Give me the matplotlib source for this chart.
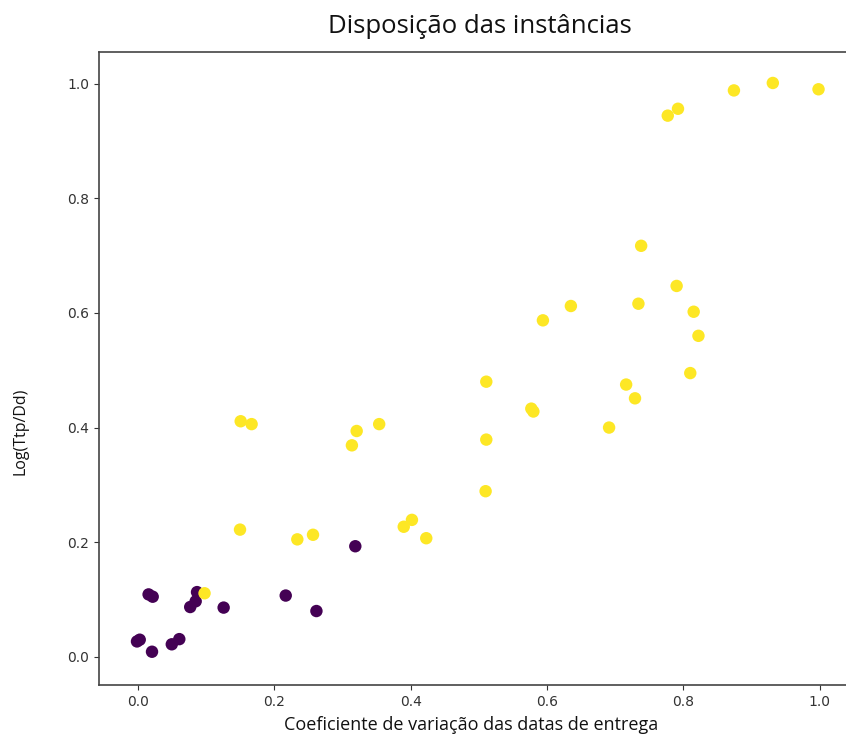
import numpy as np
import matplotlib
matplotlib.use("Agg")
import matplotlib.pyplot as plt

# coeficiente de variação (x), Log(Ttp/Dd) (y), grupo (0 = roxo, 1 = amarelo)
cv_yellow = [0.777, 0.792, 0.874, 0.931, 0.998,
             0.738, 0.790, 0.734, 0.815, 0.635, 0.594, 0.822, 0.810,
             0.511, 0.716, 0.729, 0.577, 0.580, 0.691, 0.511, 0.510,
             0.151, 0.167, 0.321, 0.354, 0.314, 0.150, 0.234, 0.257,
             0.390, 0.402, 0.423, 0.098]
log_yellow = [0.944, 0.956, 0.988, 1.001, 0.990,
              0.717, 0.647, 0.616, 0.602, 0.612, 0.587, 0.560, 0.495,
              0.480, 0.475, 0.451, 0.433, 0.428, 0.400, 0.379, 0.289,
              0.411, 0.406, 0.394, 0.406, 0.369, 0.222, 0.205, 0.213,
              0.227, 0.239, 0.207, 0.111]

cv_purple = [0.016, 0.022, 0.087, 0.085, 0.077, 0.126, 0.217, 0.262, 0.319,
             -0.001, 0.003, 0.021, 0.050, 0.061]
log_purple = [0.109, 0.105, 0.113, 0.097, 0.087, 0.086, 0.107, 0.080, 0.193,
              0.027, 0.030, 0.009, 0.022, 0.031]

x = np.array(cv_purple + cv_yellow)
y = np.array(log_purple + log_yellow)
grupo = np.array([0] * len(cv_purple) + [1] * len(cv_yellow))

fig = plt.figure(figsize=(8.46, 7.37), dpi=100)
# the right edge of the axes runs past the picture, as in the screenshot
ax = fig.add_axes([99 / 846, 52 / 737, 755 / 846, 633 / 737])
ax.scatter(x, y, c=grupo, cmap="viridis", s=80, edgecolors="none")

ax.set_xlim(-0.0567, 1.05)
ax.set_ylim(-0.049, 1.055)
ax.set_xticks([0.0, 0.2, 0.4, 0.6, 0.8, 1.0])
ax.set_yticks([0.0, 0.2, 0.4, 0.6, 0.8, 1.0])
ax.tick_params(labelsize=10, colors="#333333", length=3.5)
for s in ax.spines.values():
    s.set_color("#444444")
    s.set_linewidth(1.2)

lab = dict(family=["Open Sans", "DejaVu Sans"], color="#111111")
ax.set_title("Disposição das instâncias", fontsize=18.5, pad=14, x=(480 - 99) / 755, **lab)
ax.set_xlabel("Coeficiente de variação das datas de entrega", fontsize=13, labelpad=5,
              x=(471 - 99) / 755, **lab)
ax.set_ylabel("Log(Ttp/Dd)", fontsize=11.5, **lab)
ax.yaxis.set_label_coords(-0.094, 0.40)

fig.savefig("out.png", dpi=100)
